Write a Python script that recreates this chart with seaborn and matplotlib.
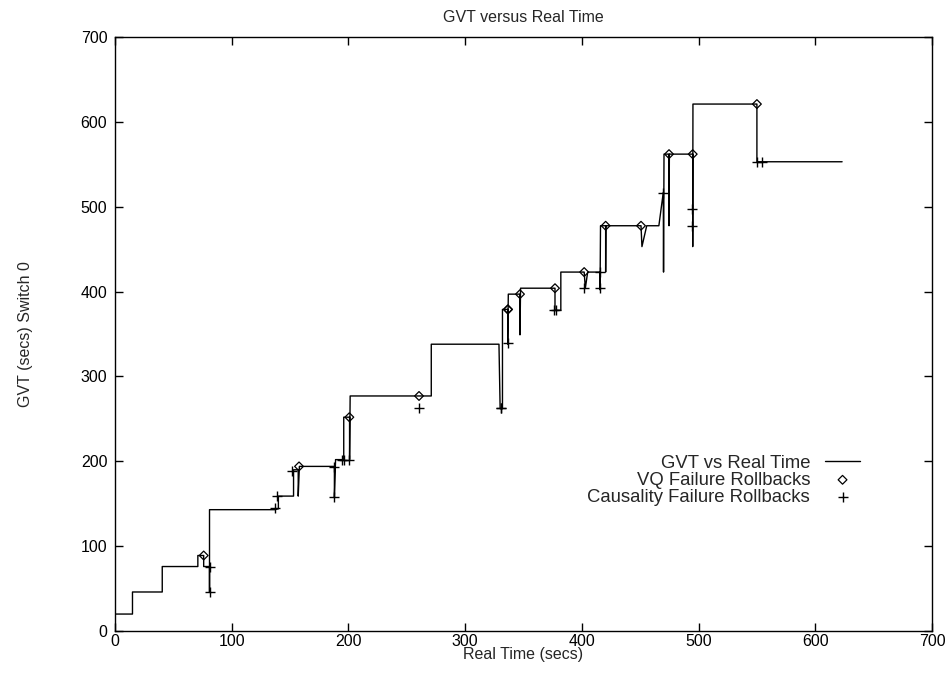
import matplotlib
matplotlib.use("Agg")
import matplotlib.pyplot as plt
import seaborn as sns

# GVT line (sampled path, time order)
gvt_time = [0, 15, 15, 40.5, 40.5, 71, 71, 76, 76, 81, 81, 81, 137, 140, 140,
            153, 153, 157, 157, 158, 188, 188, 189, 196, 196, 201, 201, 201.5,
            271, 271, 329, 330, 332, 332, 336.5, 336.5, 337, 347, 347, 347.5,
            377, 377, 382, 382, 402, 403, 405, 415.6, 415.6, 416, 420.4, 420.4,
            420.6, 450.7, 451.5, 455.6, 466, 469.8, 470, 470.4, 474.7, 474.7,
            475, 495, 495, 495.2, 550, 550, 623]
gvt_value = [20, 20, 46, 46, 76, 76, 89, 89, 76, 76, 46, 143, 143, 144, 159,
             159, 190, 190, 159, 194, 194, 158, 202, 202, 252, 252, 202, 277,
             277, 338, 338, 262, 262, 379, 379, 338, 397, 397, 349, 404,
             404, 378, 378, 423, 423, 404, 423, 423, 402, 477.6, 477.6, 423,
             477.6, 477.6, 453, 477.6, 477.6, 517, 423, 562, 562, 477.6,
             562, 562, 453, 621, 621, 553, 553]

# VQ failure rollbacks
vq_time = [76, 157.7, 200.8, 260.5, 336.5, 336.8, 347, 377, 402, 420.4, 450.7,
           474.7, 495, 550]
vq_value = [89, 194, 252, 277, 379, 379, 397, 404, 423, 477.6, 477.6, 562, 562,
            621]

# Causality failure rollbacks
ca_time = [81, 81, 136.8, 138.5, 152, 188, 188, 194.2, 196.2, 200.8, 260.8,
           330.4, 331, 336.5, 376.5, 377.5, 402, 415.6, 415.6, 469.8, 494.6,
           494.6, 550, 554]
ca_value = [76, 46, 144.9, 159.4, 189, 193.6, 157.5, 201.5, 201.5, 201.5, 262.4,
            262.4, 262.4, 339, 378, 378, 404, 423, 404, 516.5, 497.3, 477.6,
            553, 553]

ticks = [0, 100, 200, 300, 400, 500, 600, 700]

sns.set_theme(style="ticks")
plt.rcParams["font.family"] = ["Liberation Sans", "DejaVu Sans"]

fig = plt.figure(figsize=(9.51, 6.83), dpi=100)
ax = fig.add_axes([0.1209, 0.0761, 0.8591, 0.8697])

sns.lineplot(x=gvt_time, y=gvt_value, sort=False, estimator=None,
             color="black", linewidth=1.0, ax=ax, label="GVT vs Real Time")
sns.scatterplot(x=vq_time, y=vq_value, marker="D", s=20, facecolor="none",
                edgecolor="black", linewidth=0.9, ax=ax,
                label="VQ Failure Rollbacks", zorder=3)
sns.scatterplot(x=ca_time, y=ca_value, marker="+", s=45, color="black",
                linewidth=1.0, ax=ax, label="Causality Failure Rollbacks",
                zorder=3)

ax.set_xlim(0, 700)
ax.set_ylim(0, 700)
ax.set_xticks(ticks)
ax.set_yticks(ticks)
ax.set_xticklabels([str(t) for t in ticks])
ax.set_yticklabels([str(t) for t in ticks])

for s in ax.spines.values():
    s.set_visible(True)
    s.set_color("black")
    s.set_linewidth(1.0)

ax.tick_params(axis="both", direction="in", length=6, width=1.0,
               top=True, right=True, labelsize=11.5, colors="black")
ax.tick_params(axis="x", pad=2)
ax.tick_params(axis="y", pad=5.5)

ax.set_title("GVT versus Real Time", fontsize=11.5, pad=11)
ax.set_xlabel("Real Time (secs)", fontsize=11.5)
ax.set_ylabel("GVT (secs) Switch 0", fontsize=11.5)
ax.xaxis.set_label_coords(0.5, -0.027)
ax.xaxis.label.set_va("top")
ax.yaxis.set_label_coords(-0.100, 0.5)

leg = ax.legend(loc="center right", bbox_to_anchor=(0.912, 0.254),
                frameon=False, markerfirst=False, handlelength=1.9,
                handletextpad=0.8, labelspacing=0.0, borderpad=0,
                borderaxespad=0, fontsize=13.3, scatterpoints=1)

fig.savefig("out.png", dpi=100, facecolor="white")
